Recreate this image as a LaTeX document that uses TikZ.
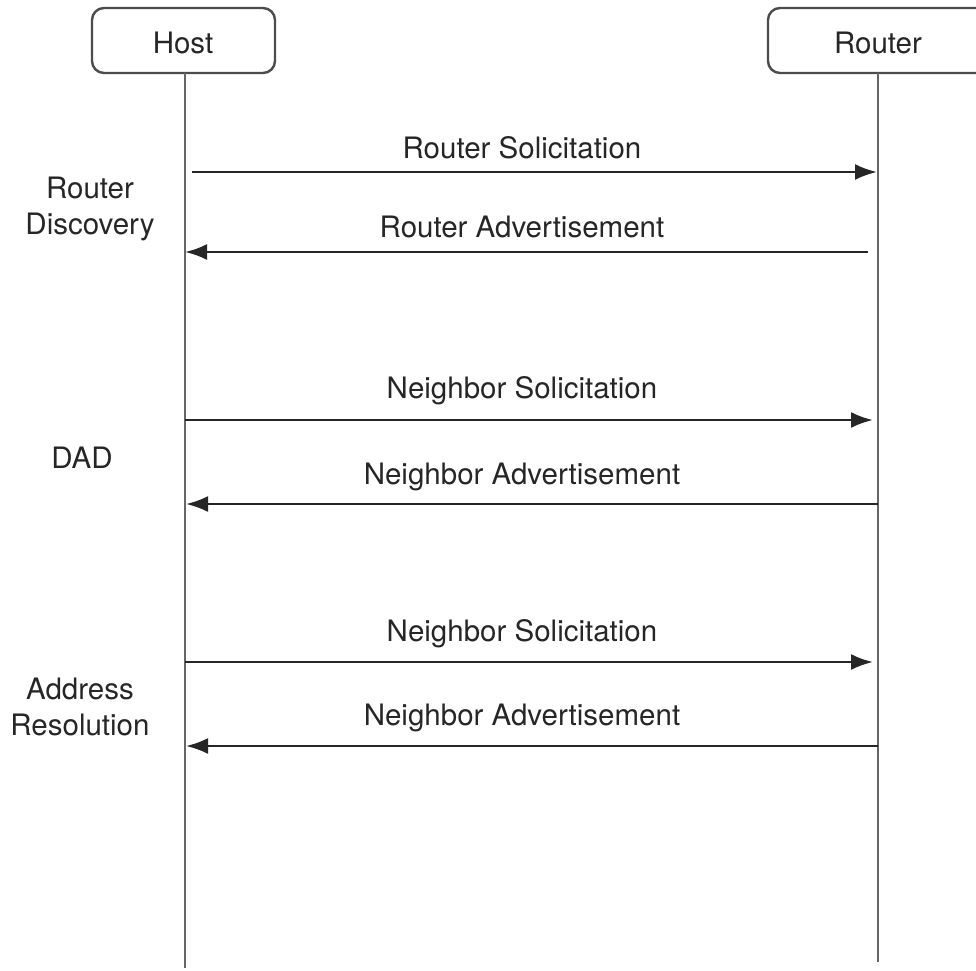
\documentclass[tikz,border=0pt]{standalone}
\usepackage{fontspec}
\setmainfont{TeX Gyre Heros}
\usetikzlibrary{arrows.meta}
\begin{document}
\begin{tikzpicture}[x=1pt,y=-1pt,
  lbl/.style={font=\fontsize{29.5}{36}\selectfont, text=black!85, inner sep=0pt},
  actor/.style={draw=black!70, line width=2.4pt, rounded corners=12pt, fill=white},
  life/.style={draw=black!60, line width=2.6pt},
  msg/.style={draw=black!85, line width=2.6pt, -{Latex[length=22pt,width=16pt]}}]
\useasboundingbox (0,0) rectangle (976,970);
% participants
\draw[actor] (92,8) rectangle (275,73);
\node[lbl] (host) at (183,43) {Host};
\draw[actor] (768,8) rectangle (990,73);
\node[lbl] (router) at (878,43) {Router};
% lifelines
\coordinate (hTop) at (185,73);
\coordinate (hBot) at (185,968);
\coordinate (rTop) at (878,73);
\coordinate (rBot) at (878,962);
\draw[life] (hTop) -- (hBot);
\draw[life] (rTop) -- (rBot);
% message anchors
\coordinate (a1s) at (192,172); \coordinate (a1e) at (877,172);
\coordinate (a2s) at (868,252); \coordinate (a2e) at (185,252);
\coordinate (a3s) at (185,420); \coordinate (a3e) at (873,420);
\coordinate (a4s) at (878,504); \coordinate (a4e) at (186,504);
\coordinate (a5s) at (185,662); \coordinate (a5e) at (873,662);
\coordinate (a6s) at (878,746); \coordinate (a6e) at (186,746);
% messages
\draw[msg] (a1s) -- (a1e);
\node[lbl] (m1) at (522,148) {Router Solicitation};
\draw[msg] (a2s) -- (a2e);
\node[lbl] (m2) at (522,227) {Router Advertisement};
\draw[msg] (a3s) -- (a3e);
\node[lbl] (m3) at (522,391) {Neighbor Solicitation};
\draw[msg] (a4s) -- (a4e);
\node[lbl] (m4) at (522,477) {Neighbor Advertisement};
\draw[msg] (a5s) -- (a5e);
\node[lbl] (m5) at (522,634) {Neighbor Solicitation};
\draw[msg] (a6s) -- (a6e);
\node[lbl] (m6) at (522,718) {Neighbor Advertisement};
% phase labels
\node[lbl, align=center] (p1) at (90,209) {Router\\Discovery};
\node[lbl] (p2) at (82,458) {DAD};
\node[lbl, align=center] (p3) at (80,707) {Address\\Resolution};
\end{tikzpicture}
\end{document}
